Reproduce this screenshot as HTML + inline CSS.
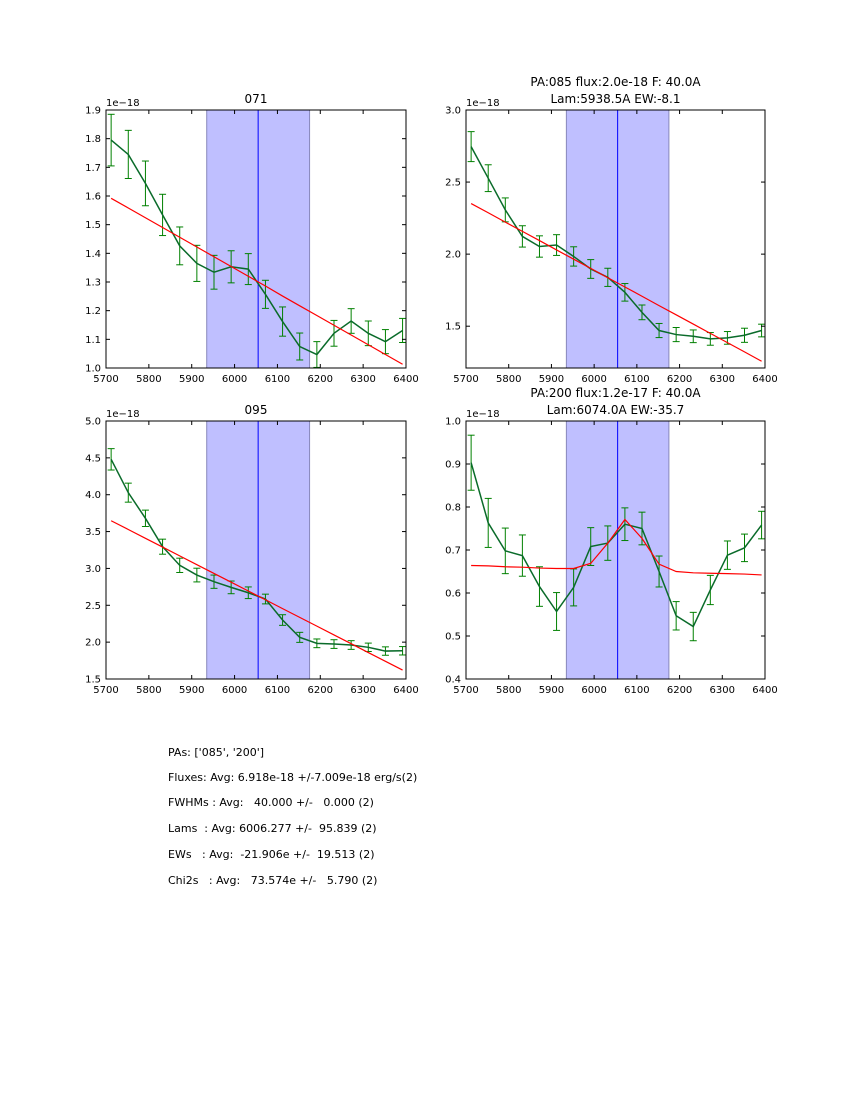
<!DOCTYPE html>
<html><head><meta charset="utf-8"><style>
body{margin:0;background:#fff;}
svg text{font-family:"DejaVu Sans","Liberation Sans",sans-serif;}
</style></head><body>
<svg id="fig" width="850" height="1100" xmlns="http://www.w3.org/2000/svg">
<rect width="850" height="1100" fill="#fff"/>
<g font-size="11" fill="#000">
<text x="168" y="756" xml:space="preserve">PAs: ['085', '200']</text>
<text x="168" y="781" xml:space="preserve">Fluxes: Avg: 6.918e-18 +/-7.009e-18 erg/s(2)</text>
<text x="168" y="806" xml:space="preserve">FWHMs : Avg:   40.000 +/-   0.000 (2)</text>
<text x="168" y="832" xml:space="preserve">Lams  : Avg: 6006.277 +/-  95.839 (2)</text>
<text x="168" y="858" xml:space="preserve">EWs   : Avg:  -21.906e +/-  19.513 (2)</text>
<text x="168" y="884" xml:space="preserve">Chi2s   : Avg:   73.574e +/-   5.790 (2)</text>
</g>
</svg>
<script>
const waves = [5712,5752,5792,5832,5872,5912,5952,5992,6032,6072,6112,6152,6192,6232,6272,6312,6352,6392];
const bandLo = 5935, bandHi = 6175, lineCenter = 6055;
const xTicks = [5700,5800,5900,6000,6100,6200,6300,6400];

const fluxA = [1.795,1.745,1.644,1.534,1.426,1.365,1.334,1.353,1.345,1.257,1.162,1.075,1.047,1.121,1.164,1.121,1.092,1.131];
const errA  = [0.090,0.084,0.078,0.072,0.066,0.063,0.059,0.056,0.054,0.049,0.051,0.047,0.045,0.045,0.043,0.043,0.042,0.042];
const fitA  = [1.592,1.558,1.524,1.490,1.456,1.422,1.388,1.354,1.320,1.286,1.251,1.217,1.183,1.149,1.115,1.081,1.047,1.013];
const yTicksA = [1.0,1.1,1.2,1.3,1.4,1.5,1.6,1.7,1.8,1.9];

const fluxB = [2.746,2.527,2.307,2.123,2.053,2.063,1.984,1.897,1.839,1.735,1.596,1.470,1.442,1.430,1.412,1.419,1.437,1.470];
const errB  = [0.104,0.093,0.083,0.074,0.074,0.072,0.067,0.065,0.063,0.061,0.051,0.049,0.049,0.044,0.044,0.044,0.049,0.044];
const fitB  = [2.351,2.287,2.222,2.158,2.094,2.029,1.965,1.901,1.836,1.772,1.708,1.643,1.579,1.515,1.450,1.386,1.322,1.257];
const yTicksB = [1.5,2.0,2.5,3.0];

const fluxC = [4.480,4.028,3.680,3.295,3.042,2.910,2.820,2.743,2.670,2.585,2.300,2.065,1.984,1.974,1.961,1.930,1.879,1.883];
const errC  = [0.145,0.129,0.111,0.102,0.097,0.093,0.090,0.086,0.079,0.066,0.072,0.068,0.059,0.059,0.059,0.057,0.057,0.057];
const fitC  = [3.647,3.528,3.409,3.290,3.170,3.051,2.932,2.813,2.694,2.575,2.455,2.336,2.217,2.098,1.979,1.859,1.740,1.621];
const yTicksC = [1.5,2.0,2.5,3.0,3.5,4.0,4.5,5.0];

const fluxD = [0.903,0.763,0.698,0.687,0.615,0.557,0.613,0.708,0.716,0.760,0.750,0.650,0.547,0.522,0.607,0.688,0.705,0.758];
const errD  = [0.064,0.057,0.053,0.048,0.046,0.044,0.043,0.044,0.040,0.038,0.038,0.036,0.033,0.033,0.034,0.033,0.032,0.032];
const fitD  = [0.664,0.663,0.661,0.660,0.658,0.657,0.657,0.669,0.716,0.771,0.727,0.667,0.650,0.647,0.646,0.645,0.644,0.642];
const yTicksD = [0.4,0.5,0.6,0.7,0.8,0.9,1.0];

const NS='http://www.w3.org/2000/svg';
const fig=document.getElementById('fig');
function mk(tag,attrs,parent){const e=document.createElementNS(NS,tag);for(const k in attrs)e.setAttribute(k,attrs[k]);(parent||fig).appendChild(e);return e;}

function panel(name,x0,y0,w,h,ymin,ymax,flux,err,fit,yTicks,titleLines){
  const g=mk('g',{});
  
  
  const sx=v=>x0+(v-5700)/700*w;
  const sy=v=>y0+h-(v-ymin)/(ymax-ymin)*h;
  const band=mk('rect',{x:sx(bandLo),y:y0,width:sx(bandHi)-sx(bandLo),height:h,fill:'#bfbfff',stroke:'#8888bb','stroke-width':1},g);
  
  
  const cl=mk('line',{x1:sx(lineCenter),x2:sx(lineCenter),y1:y0,y2:y0+h,stroke:'#0000ff','stroke-width':1},g);
  
  
  const clip='clip-'+name;
  const cp=mk('clipPath',{id:clip},g);mk('rect',{x:x0,y:y0,width:w,height:h},cp);
  const dg=mk('g',{'clip-path':'url(#'+clip+')'},g);
  waves.forEach((wv,i)=>{
    const eb=mk('g',{stroke:'#008000','stroke-width':1},dg);
    
    
    const x=sx(wv),a=sy(flux[i]-err[i]),b=sy(flux[i]+err[i]);
    mk('line',{x1:x,x2:x,y1:a,y2:b},eb);
    mk('line',{x1:x-3.5,x2:x+3.5,y1:a,y2:a},eb);
    mk('line',{x1:x-3.5,x2:x+3.5,y1:b,y2:b},eb);
  });
  const dl=mk('polyline',{points:waves.map((wv,i)=>sx(wv)+','+sy(flux[i])).join(' '),fill:'none',stroke:'#0a6b2a','stroke-width':1.5},dg);
  
  
  const fl=mk('polyline',{points:waves.map((wv,i)=>sx(wv)+','+sy(fit[i])).join(' '),fill:'none',stroke:'#ff0000','stroke-width':1.2},dg);
  
  
  mk('rect',{x:x0,y:y0,width:w,height:h,fill:'none',stroke:'#000','stroke-width':1},g);
  xTicks.forEach(t=>{
    const x=sx(t);
    mk('line',{x1:x,x2:x,y1:y0+h,y2:y0+h-4,stroke:'#000'},g);
    mk('line',{x1:x,x2:x,y1:y0,y2:y0+4,stroke:'#000'},g);
    const tl=mk('text',{x:x,y:y0+h+14,'font-size':10,'text-anchor':'middle'},g);
    
    
    tl.textContent=t;
  });
  yTicks.forEach(t=>{
    const y=sy(t);
    mk('line',{x1:x0,x2:x0+4,y1:y,y2:y,stroke:'#000'},g);
    mk('line',{x1:x0+w,x2:x0+w-4,y1:y,y2:y,stroke:'#000'},g);
    const tl=mk('text',{x:x0-5,y:y+3.5,'font-size':10,'text-anchor':'end'},g);
    
    
    tl.textContent=t.toFixed(1);
  });
  const off=mk('text',{x:x0,y:y0-4,'font-size':10},g);
  
  
  off.textContent='1e\u221218';
  titleLines.forEach((s,k)=>{
    const t=mk('text',{x:x0+w/2,y:y0-7-(titleLines.length-1-k)*17,'font-size':12,'text-anchor':'middle'},g);
    
    
    t.textContent=s;
  });
}
panel('panel-071',106,110,300,258,1.0,1.9,fluxA,errA,fitA,yTicksA,['071']);
panel('panel-085',466,110,299,258,1.21,3.0,fluxB,errB,fitB,yTicksB,['PA:085 flux:2.0e-18 F: 40.0A','Lam:5938.5A EW:-8.1']);
panel('panel-095',106,421,300,258,1.5,5.0,fluxC,errC,fitC,yTicksC,['095']);
panel('panel-200',466,421,299,258,0.4,1.0,fluxD,errD,fitD,yTicksD,['PA:200 flux:1.2e-17 F: 40.0A','Lam:6074.0A EW:-35.7']);
</script>
</body></html>
